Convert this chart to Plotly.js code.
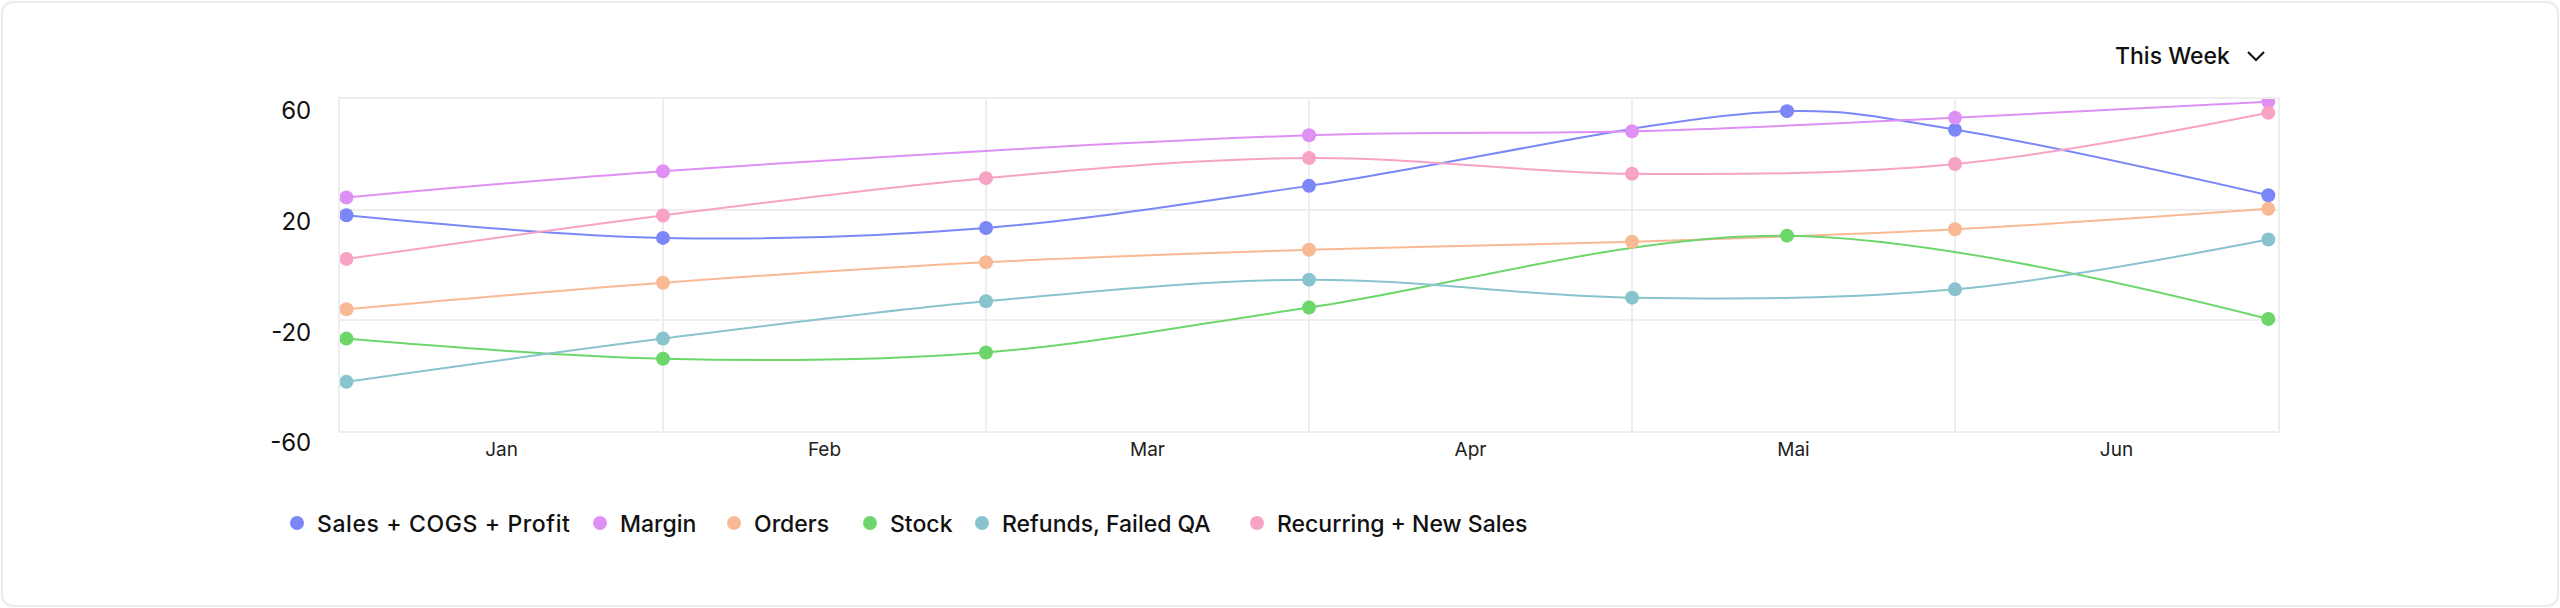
<!DOCTYPE html>
<html>
<head>
<meta charset="utf-8">
<script src="https://cdn.plot.ly/plotly-3.0.1.min.js"></script>
<style>
  html, body { margin: 0; padding: 0; background: #ffffff; }
  #card { position: absolute; left: 1px; top: 1px; width: 2554px; height: 602px;
          border: 2px solid #ececec; border-radius: 12px; background: #ffffff; }
  #chart { position: absolute; left: 0; top: 0; width: 2560px; height: 608px; }
  .legendtext { letter-spacing: 0.6px; }
</style>
</head>
<body>
<div id="card"></div>
<div id="chart"></div>
<script>
// Month tick labels (centred between grid lines)
const months = ["Jan", "Feb", "Mar", "Apr", "Mai", "Jun"];
// Y-axis tick values and labels
const yTickVals = [-60, -20, 20, 60];
const yTickText = ["-60", "-20", "20", "60"];
// Shared x positions of the data points (in month units)
const xPos = [0.02, 1, 2, 3, 4, 4.48, 5, 5.97];

// Series values (null = no point at that position)
const salesCogsProfit = [18.0, 9.8, 13.4, 28.6, null, 55.6, 48.9, 25.2];
const margin          = [24.4, 33.9, null, 46.9, 48.3, null, 53.2, 59.0];
const orders          = [-16.0, -6.4, 1.0, 5.5, 8.4, null, 12.9, 20.3];
const stock           = [-26.6, -33.9, -31.6, -15.4, null, 10.6, null, -19.5];
const refundsFailedQA = [-42.2, -26.6, -13.1, -5.3, -11.8, null, -8.8, 9.2];
const recurringNew    = [2.2, 17.9, 31.4, 38.7, 33.0, null, 36.5, 55.0];

const seriesNames  = ["Sales + COGS + Profit", "Margin", "Orders", "Stock", "Refunds, Failed QA", "Recurring + New Sales"];
const seriesValues = [salesCogsProfit, margin, orders, stock, refundsFailedQA, recurringNew];
const seriesColors = ["#7b87f7", "#df90f5", "#fab995", "#6dd66b", "#89c3cd", "#f8a3c6"];

// Legend entry anchor positions (px from the left of the page, one legend per series)
const legendLeftPx = [277, 580, 714, 850, 962, 1237];

const monthTickVals = months.map((m, i) => i + 0.5);
const gridVals = [0, 1, 2, 3, 4, 5, 6];

const axisFont = "Inter, 'Noto Sans', sans-serif";
const legendIds = seriesNames.map((n, i) => i === 0 ? "legend" : "legend" + (i + 1));

const traces = [];
seriesNames.forEach((name, i) => {
  traces.push({
    type: "scatter", mode: "lines", x: xPos, y: seriesValues[i],
    line: { color: seriesColors[i], width: 2, shape: "spline", smoothing: 1 },
    connectgaps: true, showlegend: false, hoverinfo: "skip", legend: legendIds[i]
  });
});
seriesNames.forEach((name, i) => {
  traces.push({
    type: "scatter", mode: "markers", name: name, x: xPos, y: seriesValues[i],
    marker: { color: seriesColors[i], size: 14 },
    legend: legendIds[i]
  });
});

const layout = {
  width: 2560, height: 608,
  margin: { l: 340, r: 282, t: 99, b: 177 },
  paper_bgcolor: "rgba(0,0,0,0)",
  plot_bgcolor: "rgba(0,0,0,0)",
  showlegend: true,
  xaxis: {
    range: [0, 6], tickmode: "array", tickvals: monthTickVals, ticktext: months,
    showgrid: false, zeroline: false, ticks: "",
    showline: true, linecolor: "#eeeeee", linewidth: 2, mirror: true,
    tickfont: { family: axisFont, size: 19, color: "#222222" },
    minor: { tickmode: "array", tickvals: gridVals, showgrid: true, gridcolor: "#eeeeee", gridwidth: 2, ticks: "" }
  },
  yaxis: {
    range: [-60, 60], tickmode: "array", tickvals: yTickVals, ticktext: yTickText,
    showgrid: true, gridcolor: "#eeeeee", gridwidth: 2, zeroline: false, ticks: "",
    showline: true, linecolor: "#eeeeee", linewidth: 2, mirror: true,
    tickfont: { family: axisFont, size: 24, color: "#111111" },
    ticklabelshift: 12, ticklabelstandoff: 22
  },
  annotations: [{
    text: "This Week", xref: "paper", yref: "paper",
    x: (2232 - 340) / 1938, xanchor: "right", y: (431 - 56) / 332, yanchor: "middle",
    showarrow: false, font: { family: axisFont, size: 23, color: "#111111", weight: 500 }
  }],
  shapes: [{
    type: "path", xref: "paper", yref: "paper",
    xsizemode: "pixel", ysizemode: "pixel",
    xanchor: (2256 - 340) / 1938, yanchor: (431 - 56) / 332,
    path: "M -8,4 L 0,-4 L 8,4",
    line: { color: "#111111", width: 2 }
  }]
};

legendIds.forEach((id, i) => {
  layout[id] = {
    orientation: "h", xref: "container", yref: "container",
    x: legendLeftPx[i] / 2560, xanchor: "left", y: 1 - 523 / 608, yanchor: "middle",
    font: { family: axisFont, size: 23, color: "#111111", weight: 500 },
    bgcolor: "rgba(0,0,0,0)", itemclick: false, itemdoubleclick: false
  };
});

Plotly.newPlot("chart", traces, layout, { displayModeBar: false, staticPlot: true });
</script>
</body>
</html>
